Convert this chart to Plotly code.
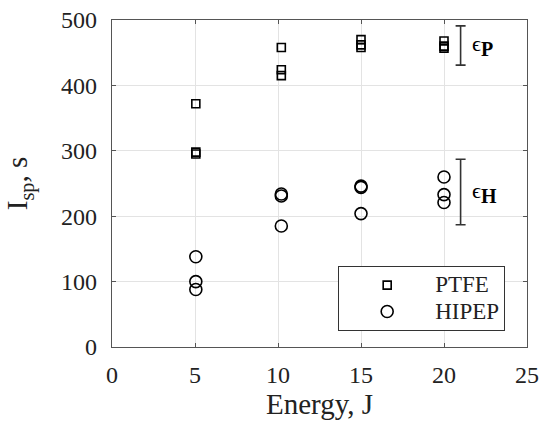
import plotly.graph_objects as go

# Data
ptfe_x = [5.05, 5.05, 5.05, 10.2, 10.2, 10.2, 15, 15, 15, 20, 20, 20]
ptfe_y = [372, 298, 295, 458, 424, 415, 470, 462, 458, 468, 460, 457]
hipep_x = [5.05, 5.05, 5.05, 10.2, 10.2, 10.2, 15, 15, 15, 20, 20, 20]
hipep_y = [138, 100, 88, 234, 231, 185, 246, 244, 204, 260, 233, 221]
series_names = ["PTFE", "HIPEP"]
err_x = [21, 21]
err_center = [461, 237]
err_half = [30, 50]
err_labels = ["ϵ<sub><span style='font-size:20px'><b>P</b></span></sub>",
              "ϵ<sub><span style='font-size:20px'><b>H</b></span></sub>"]
x_ticks = [0, 5, 10, 15, 20, 25]
y_ticks = [0, 100, 200, 300, 400, 500]

FONT = "Liberation Serif, Times New Roman, serif"

def legend_name(n):
    return "<span style='font-size:23px'>" + n + "</span>"

fig = go.Figure()
fig.add_trace(go.Scatter(
    x=ptfe_x, y=ptfe_y, mode="markers", name=legend_name(series_names[0]),
    marker=dict(symbol="square-open", size=8, color="black", line=dict(width=1.6)),
))
fig.add_trace(go.Scatter(
    x=hipep_x, y=hipep_y, mode="markers", name=legend_name(series_names[1]),
    marker=dict(symbol="circle-open", size=12, color="black", line=dict(width=1.6)),
))
fig.add_trace(go.Scatter(
    x=err_x, y=err_center, mode="markers", showlegend=False,
    marker=dict(size=1, color="rgba(0,0,0,0)"),
    error_y=dict(type="data", array=err_half, visible=True, color="#333333",
                 thickness=1.6, width=5),
))
for xx, yy, t in zip(err_x, err_center, err_labels):
    fig.add_annotation(x=xx + 0.55, y=yy, text=t, showarrow=False, xanchor="left",
                       font=dict(family=FONT, size=22, color="black"))

axis_common = dict(
    automargin=False,
    showline=True, linecolor="#555555", linewidth=1.2, mirror="ticks",
    ticks="inside", ticklen=4, tickcolor="#555555",
    showgrid=True, gridcolor="#e3e3e3", gridwidth=1, zeroline=False,
    tickfont=dict(family=FONT, size=24, color="#222222"),
)
fig.update_xaxes(range=[0, 25], tickvals=x_ticks, ticklabelstandoff=6,
                 title=dict(text="Energy, J", font=dict(family=FONT, size=29, color="#222222"), standoff=6),
                 **axis_common)
fig.update_yaxes(range=[0, 500], tickvals=y_ticks, ticklabelstandoff=9,
                 title=dict(text="I<sub>sp</sub>, s", font=dict(family=FONT, size=29, color="#222222"), standoff=24),
                 **axis_common)

fig.update_layout(
    width=539, height=425,
    margin=dict(l=112, r=12, t=20, b=78),
    plot_bgcolor="white", paper_bgcolor="white",
    font=dict(family=FONT, color="#222222"),
    legend=dict(x=0.545, y=0.248, xanchor="left", yanchor="top",
                bgcolor="white", bordercolor="#333333", borderwidth=1,
                font=dict(family=FONT, size=18, color="#222222"), itemwidth=86,
                tracegroupgap=0),
)

fig.write_html("out.html")
